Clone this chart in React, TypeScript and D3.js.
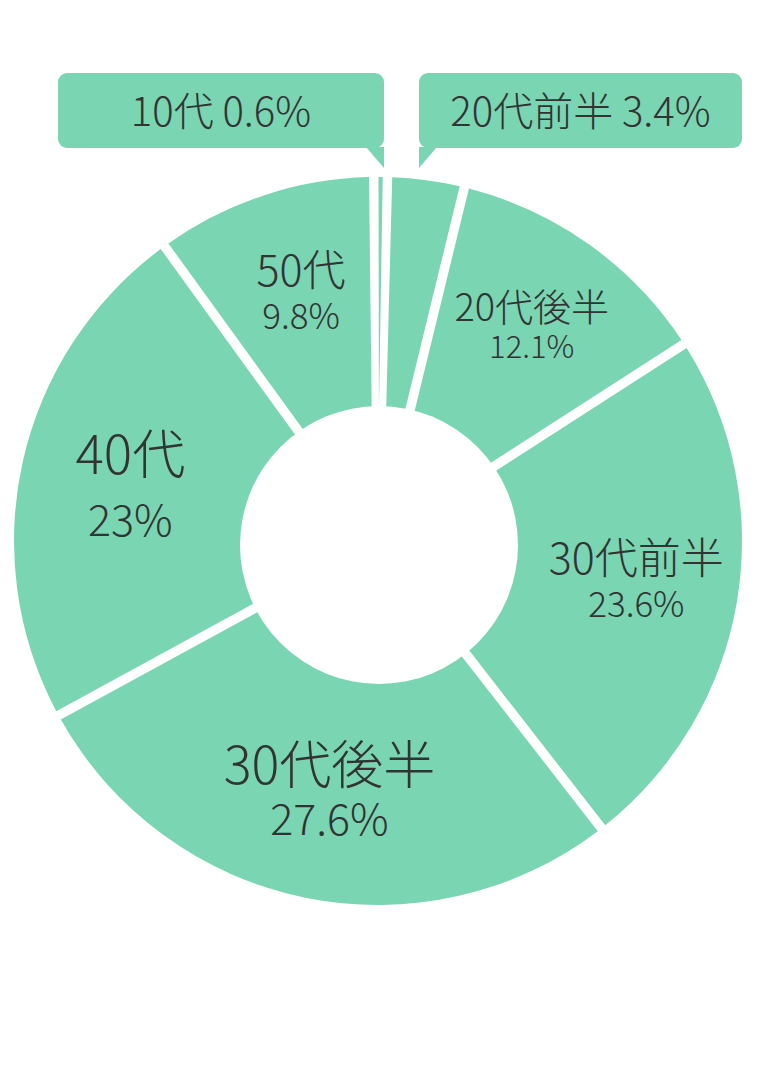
import * as d3 from "d3";

// age groups, clockwise from 12 o'clock
const categories = ["20代前半", "20代後半", "30代前半", "30代後半", "40代", "50代", "10代"];
const shares = [3.4, 12.1, 23.6, 27.6, 23, 9.8, 0.6];
const shareLabels = ["3.4%", "12.1%", "23.6%", "27.6%", "23%", "9.8%", "0.6%"];

// in-slice label styling (0 = slice is named in a callout instead)
const nameSizes = [0, 38, 43, 52, 53, 43, 0];
const pctSizes = [0, 31, 35, 43, 43, 35, 0];
const lineGaps = [0, 37, 43, 51, 62, 43, 0];

const GREEN = "#79d5b2";
const TEXT = "#333333";
const FONT = "'Noto Sans CJK JP', 'Noto Sans', sans-serif";

const width = 758;
const height = 1086;
const cx = 378;
const cy = 541;
const outerR = 364;
const innerR = 130;
const startOffset = 0.026;

export default function App() {
  const pie = d3
    .pie<number>()
    .sort(null)
    .value((d) => d)
    .startAngle(startOffset)
    .endAngle(startOffset + 2 * Math.PI);
  const arcs = pie(shares);

  const arc = d3
    .arc<d3.PieArcDatum<number>>()
    .innerRadius(innerR)
    .outerRadius(outerR)
    .padRadius(outerR)
    .padAngle(9.5 / outerR);

  const labelArc = d3
    .arc<d3.PieArcDatum<number>>()
    .innerRadius(258)
    .outerRadius(258);

  // small slices are named in callout boxes above the ring
  const callouts = [
    { i: 6, x: 58, y: 73, w: 326, h: 75, tip: [[366, 147], [384, 147], [384, 168]] },
    { i: 0, x: 419, y: 73, w: 323, h: 75, tip: [[419, 147], [437, 147], [419, 168]] },
  ];

  return (
    <svg
      width={width}
      height={height}
      style={{ position: "absolute", left: 0, top: 0, background: "#fff" }}
      fontFamily={FONT}
      fontWeight={300}
    >
      <g transform={`translate(${cx},${cy})`}>
        {arcs.map((a, i) => (
          <path key={`slice-${i}`} d={arc(a) ?? ""} fill={GREEN} />
        ))}
      </g>
      <circle cx={379} cy={545} r={139} fill="#fff" />

      <g transform={`translate(${cx},${cy})`}>
        {arcs.map((a, i) => {
          if (!nameSizes[i]) return null;
          const [lx, ly] = labelArc.centroid(a);
          return (
            <g key={`label-${i}`} transform={`translate(${lx + 4},${ly})`} fill={TEXT}>
              <text y={-10} textAnchor="middle" fontSize={nameSizes[i]}>
                {categories[i]}
              </text>
              <text y={-10 + lineGaps[i]} textAnchor="middle" fontSize={pctSizes[i]}>
                {shareLabels[i]}
              </text>
            </g>
          );
        })}
      </g>

      {callouts.map((c) => (
        <g key={`callout-${c.i}`}>
          <rect x={c.x} y={c.y} width={c.w} height={c.h} rx={9} fill={GREEN} />
          <polygon points={c.tip.map((p) => p.join(",")).join(" ")} fill={GREEN} />
          <text
            x={c.x + c.w / 2}
            y={126}
            textAnchor="middle"
            fontSize={40}
            fill={TEXT}
          >
            {`${categories[c.i]} ${shareLabels[c.i]}`}
          </text>
        </g>
      ))}
    </svg>
  );
}
